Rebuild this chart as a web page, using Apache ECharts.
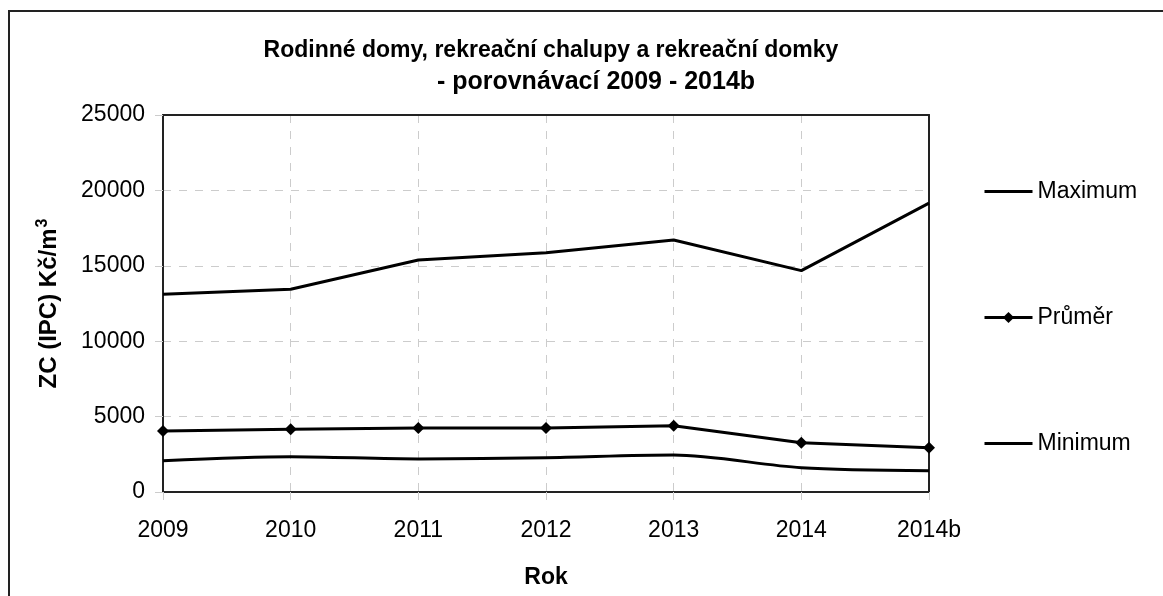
<!DOCTYPE html>
<html>
<head>
<meta charset="utf-8">
<title>Rodinné domy - porovnávací 2009 - 2014b</title>
<script src="https://cdn.jsdelivr.net/npm/echarts@6/dist/echarts.min.js"></script>
<style>
  html, body { margin: 0; padding: 0; background: #fff; }
  #chart { width: 1163px; height: 596px; }
</style>
</head>
<body>
<div id="chart"></div>
<script>
var years = ["2009", "2010", "2011", "2012", "2013", "2014", "2014b"];
var maximum = [13110, 13440, 15385, 15870, 16710, 14680, 19160];
var prumer = [4045, 4160, 4245, 4245, 4400, 3270, 2940];
var minimum = [2070, 2340, 2190, 2275, 2450, 1610, 1410];

var font = "Liberation Sans, Arial, sans-serif";

var chartDom = document.getElementById("chart");
var myChart = echarts.init(chartDom);

var option = {
  backgroundColor: "#fff",
  animation: false,
  textStyle: { fontFamily: font, color: "#000" },
  title: [
    {
      text: "Rodinné domy, rekreační chalupy a rekreační domky",
      left: 546,
      top: 34,
      textAlign: "center",
      textStyle: { fontFamily: font, fontSize: 23, fontWeight: "bold", color: "#000" }
    },
    {
      text: "- porovnávací 2009 - 2014b",
      left: 591,
      top: 65,
      textAlign: "center",
      textStyle: { fontFamily: font, fontSize: 25, fontWeight: "bold", color: "#000" }
    }
  ],
  // rámeček kolem celého grafu
  graphic: [
    {
      type: "rect",
      shape: { x: 9, y: 11, width: 1170, height: 600 },
      style: { fill: "none", stroke: "#222", lineWidth: 2 }
    }
  ],
  legend: {
    orient: "vertical",
    left: 978,
    top: 175,
    itemWidth: 48,
    itemHeight: 14,
    itemGap: 103,
    lineStyle: { width: 3 },
    textStyle: { fontFamily: font, fontSize: 23, color: "#000" },
    data: [
      { name: "Maximum", itemStyle: { opacity: 0 } },
      { name: "Průměr" },
      { name: "Minimum", itemStyle: { opacity: 0 } }
    ]
  },
  grid: {
    left: 163,
    right: 234,
    top: 115,
    bottom: 104,
    outerBoundsMode: "none",
    containLabel: false
  },
  xAxis: [
    {
      type: "category",
      data: years,
      boundaryGap: false,
      name: "Rok",
      nameLocation: "middle",
      nameGap: 74,
      nameTextStyle: { fontFamily: font, fontSize: 23, fontWeight: "bold", color: "#000" },
      axisLine: { lineStyle: { color: "#222", width: 2 } },
      axisTick: { show: true, length: 8, lineStyle: { color: "#ccc" } },
      axisLabel: { fontFamily: font, fontSize: 23, color: "#000", margin: 27 },
      splitLine: { show: true, lineStyle: { color: "#ccc", type: [8, 8] } }
    },
    {
      // horní okraj plochy grafu
      type: "category",
      data: years,
      boundaryGap: false,
      position: "top",
      axisLine: { show: true, onZero: false, lineStyle: { color: "#222", width: 2 } },
      axisTick: { show: false },
      axisLabel: { show: false },
      splitLine: { show: false }
    }
  ],
  yAxis: [
    {
      type: "value",
      min: 0,
      max: 25000,
      interval: 5000,
      name: "ZC (IPC) Kč/m{sup|3}",
      nameLocation: "middle",
      nameGap: 100,
      nameRotate: 90,
      nameTextStyle: {
        fontFamily: font,
        fontSize: 24,
        fontWeight: "bold",
        color: "#000",
        rich: {
          sup: {
            fontFamily: font,
            fontSize: 16,
            fontWeight: "bold",
            color: "#000",
            verticalAlign: "bottom",
            padding: [0, 0, 12, 1]
          }
        }
      },
      axisLine: { show: true, lineStyle: { color: "#222", width: 2 } },
      axisTick: { show: true, length: 8, lineStyle: { color: "#ccc" } },
      axisLabel: {
        fontFamily: font,
        fontSize: 23,
        color: "#000",
        margin: 18,
        formatter: function (v) { return String(v); }
      },
      splitLine: { show: true, lineStyle: { color: "#ccc", type: [8, 8] } }
    },
    {
      // pravý okraj plochy grafu
      type: "value",
      min: 0,
      max: 25000,
      interval: 5000,
      position: "right",
      axisLine: { show: true, lineStyle: { color: "#222", width: 2 } },
      axisTick: { show: false },
      axisLabel: { show: false },
      splitLine: { show: false }
    }
  ],
  series: [
    {
      name: "Maximum",
      type: "line",
      data: maximum,
      symbol: "none",
      lineStyle: { color: "#000", width: 3 },
      itemStyle: { color: "#000" }
    },
    {
      name: "Průměr",
      type: "line",
      data: prumer,
      symbol: "diamond",
      symbolSize: 12,
      lineStyle: { color: "#000", width: 3 },
      itemStyle: { color: "#000" }
    },
    {
      name: "Minimum",
      type: "line",
      data: minimum,
      symbol: "none",
      smooth: 0.3,
      lineStyle: { color: "#000", width: 3 },
      itemStyle: { color: "#000" }
    }
  ]
};

myChart.setOption(option);
</script>
</body>
</html>
